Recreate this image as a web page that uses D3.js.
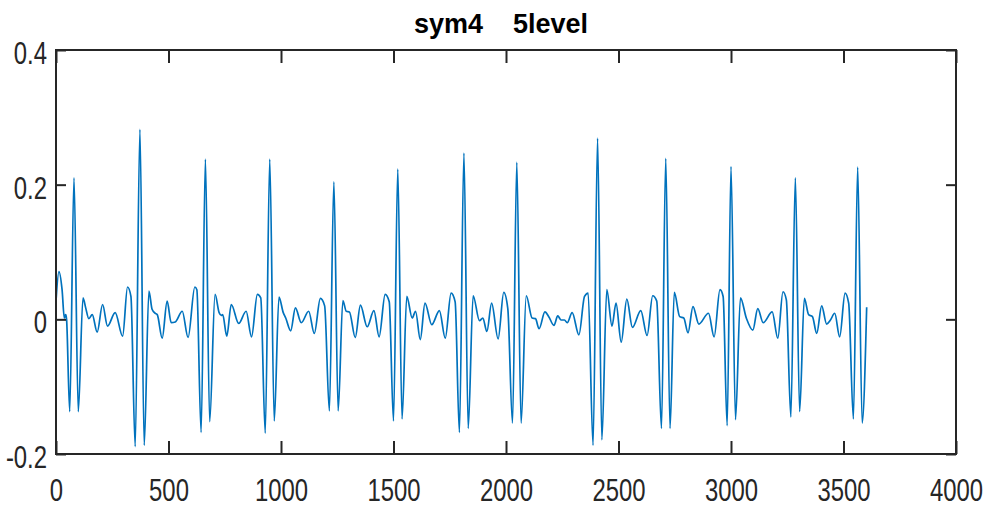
<!DOCTYPE html>
<html>
<head>
<meta charset="utf-8">
<script src="https://cdn.jsdelivr.net/npm/d3@7"></script>
<style>
  html, body { margin: 0; padding: 0; background: #fff; }
  svg { display: block; }
</style>
</head>
<body>
<div id="chart"></div>
<script>
// Reconstructed signal after 5-level sym4 wavelet processing (sample index, amplitude)
const sampleIdx = [
  0, 13, 27, 37, 43, 47, 61, 80, 99, 120, 132, 146, 161, 183, 207, 229, 263, 296,
  318, 333, 352, 373, 392, 413, 427, 441, 450, 472, 494, 512, 530, 561, 587,
  617, 626, 645, 664, 683, 707, 725, 735, 741, 759, 779, 812, 845, 869,
  895, 910, 930, 950, 970, 991, 1010, 1021, 1043, 1064, 1090, 1123, 1148,
  1175, 1194, 1215, 1235, 1254, 1275, 1290, 1304, 1330, 1353, 1383, 1413, 1436,
  1463, 1481, 1500, 1519, 1538, 1559, 1583, 1598, 1619, 1640, 1670, 1704, 1730,
  1756, 1774, 1793, 1813, 1832, 1854, 1882, 1897, 1915, 1936, 1965,
  1990, 2008, 2029, 2048, 2067, 2090, 2116, 2131, 2147, 2173, 2190, 2213, 2230, 2245, 2260, 2272, 2294, 2324,
  2349, 2365, 2387, 2407, 2426, 2448, 2471, 2489, 2512, 2537, 2562, 2599, 2627,
  2652, 2670, 2691, 2710, 2729, 2748, 2772, 2790, 2809, 2831, 2857, 2900, 2925,
  2951, 2965, 2983, 3000, 3020, 3042, 3068, 3097, 3119, 3143, 3183, 3208,
  3231, 3246, 3266, 3286, 3305, 3326, 3345, 3362, 3381, 3403, 3425, 3442, 3461, 3483,
  3507, 3523, 3544, 3563, 3583, 3603
];
const amplitude = [
  0.027, 0.071, 0.044, 0.002, 0.007, 0.000, -0.137, 0.210, -0.137, 0.032, 0.017, 0.001, 0.007, -0.019, 0.022, -0.010, 0.010, -0.025,
  0.048, 0.034, -0.189, 0.282, -0.187, 0.042, 0.015, 0.009, 0.007, -0.028, 0.027, -0.005, -0.004, 0.012, -0.027,
  0.048, 0.044, -0.168, 0.238, -0.152, 0.037, 0.010, 0.006, 0.007, -0.025, 0.022, -0.006, 0.012, -0.026,
  0.037, 0.032, -0.169, 0.238, -0.151, 0.033, 0.010, 0.002, -0.017, 0.017, -0.005, 0.012, -0.021,
  0.031, 0.020, -0.136, 0.204, -0.136, 0.028, 0.012, 0.011, -0.027, 0.021, -0.011, 0.013, -0.026,
  0.037, 0.026, -0.151, 0.223, -0.148, 0.034, 0.002, 0.012, -0.030, 0.024, -0.008, 0.013, -0.028,
  0.039, 0.026, -0.168, 0.247, -0.162, 0.035, -0.002, 0.002, -0.018, 0.024, -0.029,
  0.040, 0.016, -0.154, 0.233, -0.154, 0.035, 0.002, 0.001, -0.014, 0.011, 0.004, -0.009, 0.005, -0.001, -0.001, -0.005, 0.010, -0.023,
  0.034, 0.039, -0.187, 0.269, -0.179, 0.044, -0.010, 0.024, -0.034, 0.030, -0.012, 0.013, -0.024,
  0.035, 0.027, -0.162, 0.239, -0.162, 0.040, 0.004, 0.002, -0.020, 0.019, -0.007, 0.009, -0.026,
  0.044, 0.034, -0.158, 0.227, -0.149, 0.032, 0.002, -0.016, 0.016, -0.005, 0.011, -0.028,
  0.041, 0.029, -0.145, 0.210, -0.137, 0.031, 0.007, 0.004, -0.021, 0.020, -0.007, -0.001, 0.009, -0.026,
  0.039, 0.024, -0.148, 0.226, -0.154, 0.018
];
const xTicks = [0, 500, 1000, 1500, 2000, 2500, 3000, 3500, 4000];
const yTicks = [-0.2, 0, 0.2, 0.4];
const yTickLabels = ["-0.2", "0", "0.2", "0.4"];
const xDomain = [0, 4000];
const yDomain = [-0.2, 0.4];
const titleText = "sym4    5level";

const W = 987, H = 510;
const box = { left: 56, right: 956, top: 50, bottom: 454 };
const axisColor = "#262626";
const tickFont = "'Liberation Sans', Arial, sans-serif";
const squeeze = 0.77;   // condensed tick-label glyphs

const svg = d3.select("#chart").append("svg")
  .attr("width", W).attr("height", H)
  .attr("viewBox", `0 0 ${W} ${H}`);

const x = d3.scaleLinear().domain(xDomain).range([box.left, box.right]);
const y = d3.scaleLinear().domain(yDomain).range([box.bottom, box.top]);

const points = sampleIdx.map((s, i) => [s, amplitude[i]]);

// signal trace
svg.append("path")
  .datum(points)
  .attr("fill", "none")
  .attr("stroke", "#0072BD")
  .attr("stroke-width", 1.7)
  .attr("stroke-linejoin", "round")
  .attr("d", d3.line().x(d => x(d[0])).y(d => y(d[1])).curve(d3.curveMonotoneX));

function styleAxis(g) {
  g.select(".domain").remove();
  g.selectAll(".tick line").attr("stroke", axisColor).attr("stroke-width", 2);
  g.selectAll(".tick text")
    .attr("fill", axisColor)
    .style("font-family", tickFont)
    .style("font-size", "31px");
}

function condense(g) {
  g.selectAll(".tick text").each(function () {
    const t = d3.select(this);
    const x0 = +t.attr("x") || 0;
    t.attr("x", x0 / squeeze).attr("transform", `scale(${squeeze},1)`);
  });
}

// bottom axis (labels) with ticks pointing inward
svg.append("g")
  .attr("transform", `translate(0,${box.bottom})`)
  .call(d3.axisBottom(x).tickValues(xTicks).tickFormat(d => String(d)).tickSizeInner(-13).tickSizeOuter(0).tickPadding(25))
  .call(styleAxis)
  .call(condense);

// top axis (ticks only)
svg.append("g")
  .attr("transform", `translate(0,${box.top})`)
  .call(d3.axisTop(x).tickValues(xTicks).tickFormat("").tickSizeInner(-13).tickSizeOuter(0))
  .call(styleAxis);

// left axis (labels)
svg.append("g")
  .attr("transform", `translate(${box.left},0)`)
  .call(d3.axisLeft(y).tickValues(yTicks).tickFormat((d, i) => yTickLabels[i]).tickSizeInner(-10).tickSizeOuter(0).tickPadding(9))
  .call(styleAxis)
  .call(g => g.selectAll(".tick text").attr("dy", "0.44em"))
  .call(condense);

// right axis (ticks only)
svg.append("g")
  .attr("transform", `translate(${box.right},0)`)
  .call(d3.axisRight(y).tickValues(yTicks).tickFormat("").tickSizeInner(-10).tickSizeOuter(0))
  .call(styleAxis);

// axes box
svg.append("rect")
  .attr("x", box.left).attr("y", box.top)
  .attr("width", box.right - box.left).attr("height", box.bottom - box.top)
  .attr("fill", "none")
  .attr("stroke", axisColor)
  .attr("stroke-width", 2);

// title
svg.append("text")
  .attr("x", 501).attr("y", 33)
  .attr("text-anchor", "middle")
  .style("white-space", "pre")
  .style("font-family", "'Liberation Sans', Arial, sans-serif")
  .style("font-weight", "bold")
  .style("font-size", "27px")
  .attr("fill", "#000")
  .text(titleText);
</script>
</body>
</html>
